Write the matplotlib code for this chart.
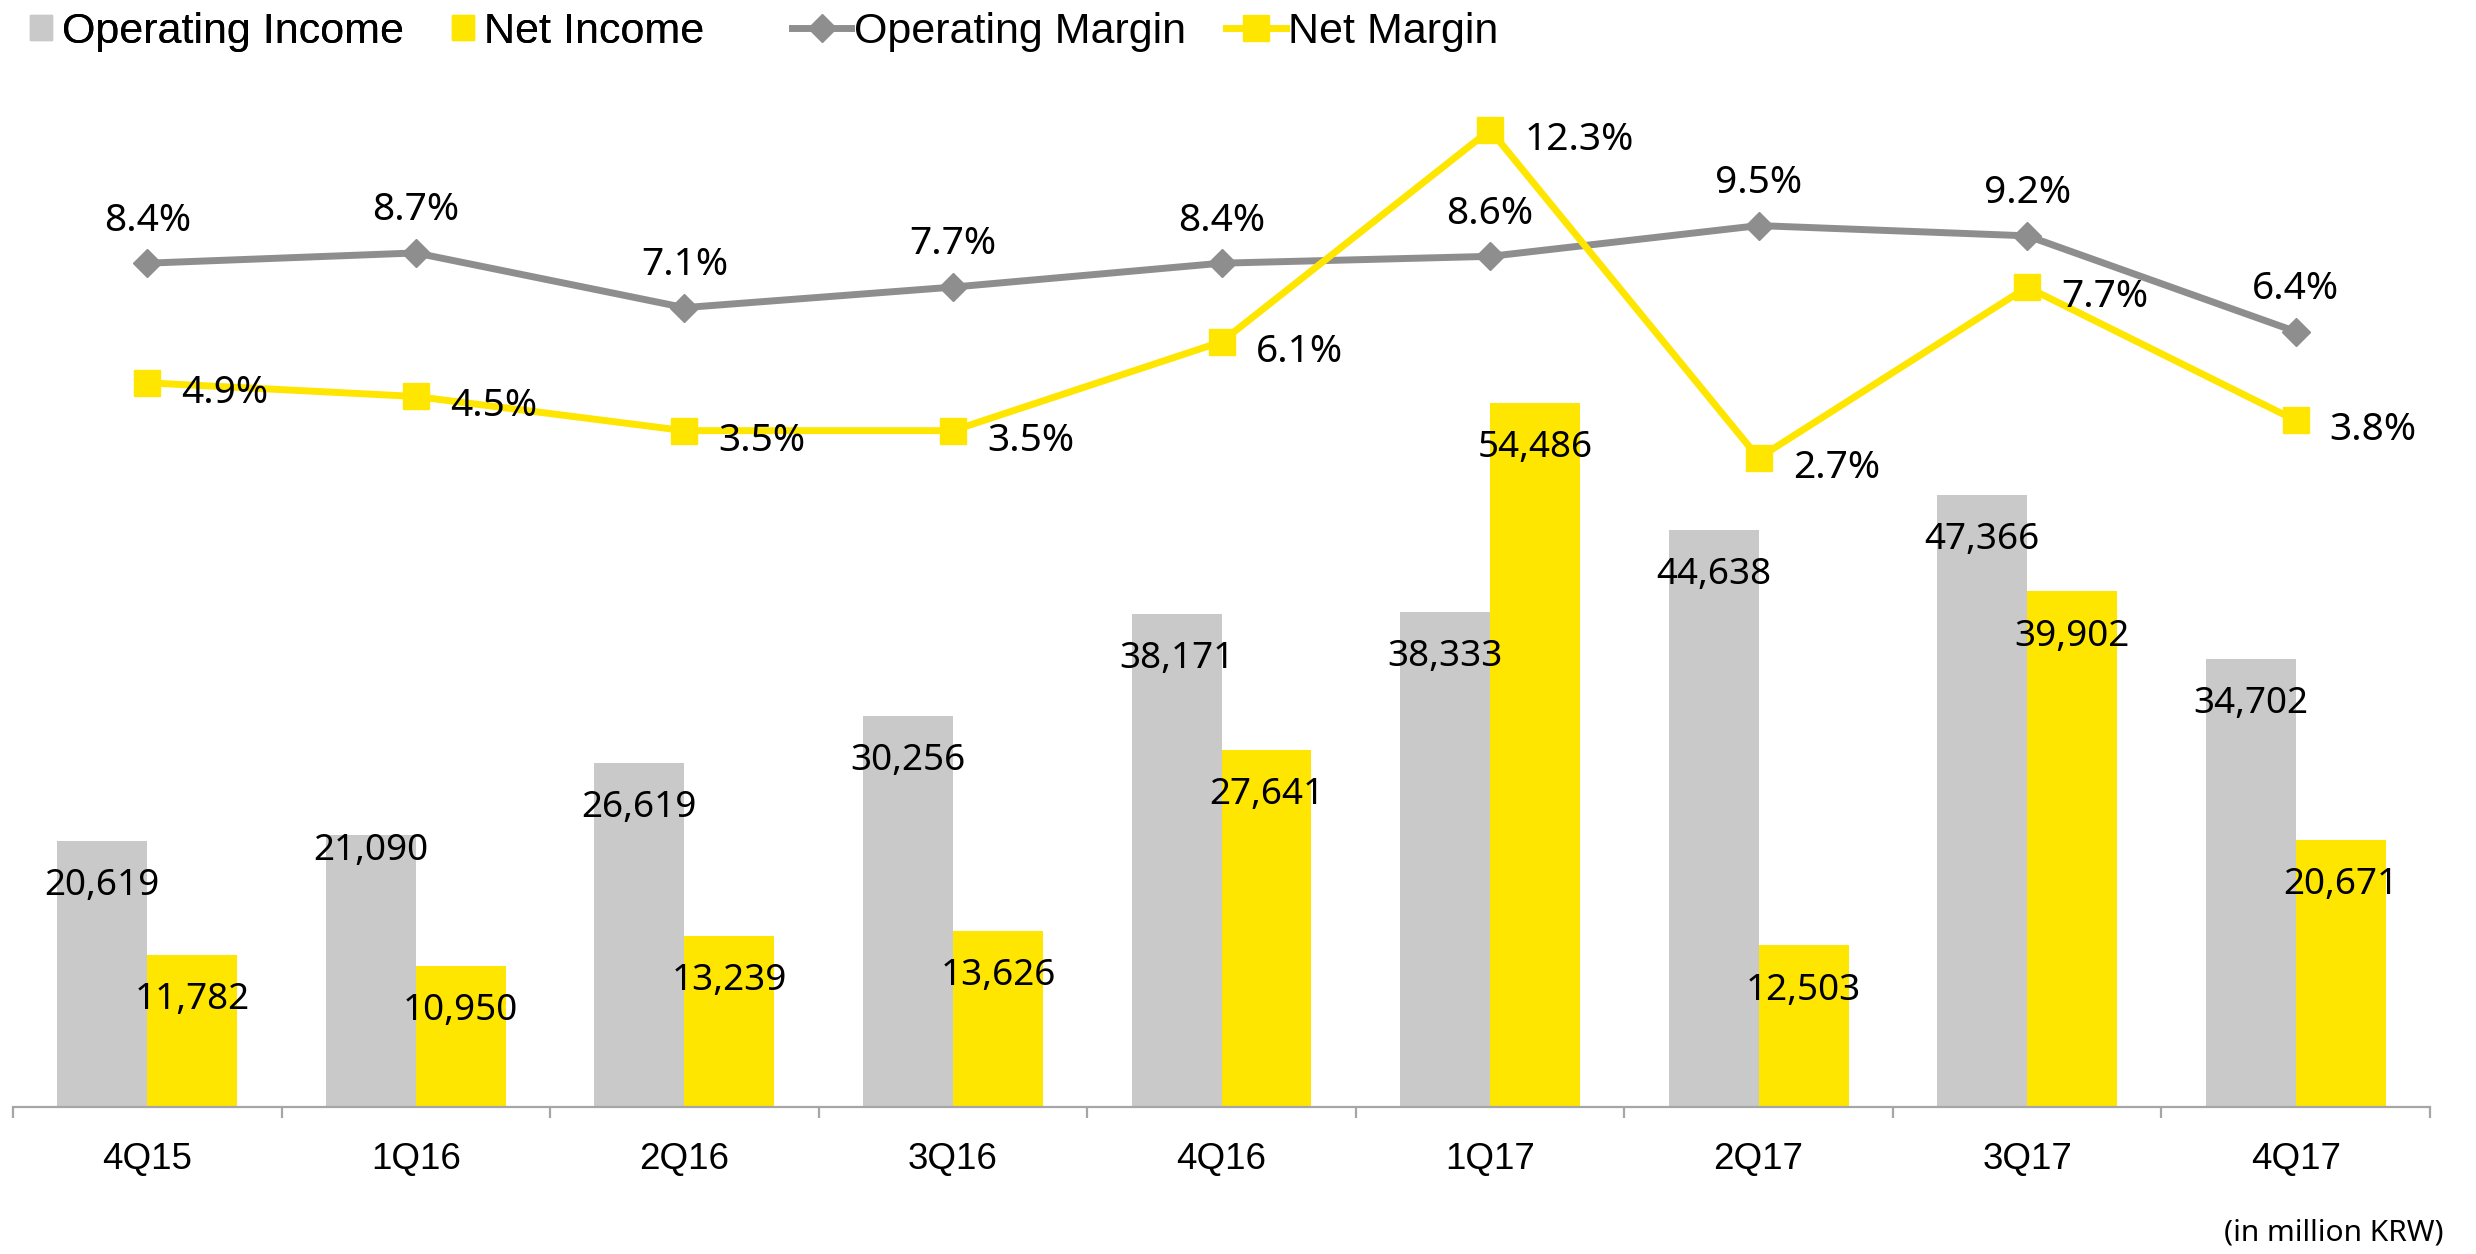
import numpy as np
import matplotlib
matplotlib.use("Agg")
import matplotlib.pyplot as plt
from matplotlib.lines import Line2D
from matplotlib.patches import Patch

# ---------------- data ----------------
quarters = ["4Q15", "1Q16", "2Q16", "3Q16", "4Q16", "1Q17", "2Q17", "3Q17", "4Q17"]
operating_income = [20619, 21090, 26619, 30256, 38171, 38333, 44638, 47366, 34702]
net_income = [11782, 10950, 13239, 13626, 27641, 54486, 12503, 39902, 20671]
operating_margin = [8.4, 8.7, 7.1, 7.7, 8.4, 8.6, 9.5, 9.2, 6.4]
net_margin = [4.9, 4.5, 3.5, 3.5, 6.1, 12.3, 2.7, 7.7, 3.8]
unit_note = "(in million KRW)"

# ---------------- style ----------------
GRAY_BAR = "#C9C9C9"
YELLOW = "#FFE600"
GRAY_LINE = "#8E8E8E"
AXIS_GRAY = "#A6A6A6"
LBL_FONT = ["Noto Sans", "DejaVu Sans"]
TXT_FONT = ["Liberation Sans", "DejaVu Sans"]

W, H = 2476, 1254
fig = plt.figure(figsize=(W / 100, H / 100), dpi=100)
left, right = 13 / W, 2430 / W
bottom, top = (H - 1107) / H, (H - 80) / H
ax = fig.add_axes([left, bottom, right - left, top - bottom])
ax2 = ax.twinx()

x = np.arange(len(quarters))
bw = 0.335
ax.bar(x - bw / 2, operating_income, width=bw, color=GRAY_BAR, zorder=2)
ax.bar(x + bw / 2, net_income, width=bw, color=YELLOW, zorder=2)
ax.set_xlim(-0.5, len(quarters) - 0.5)
ax.set_ylim(0, 79489)

ax2.plot(x, operating_margin, color=GRAY_LINE, lw=5, marker="D", ms=14,
         mec=GRAY_LINE, mfc=GRAY_LINE, zorder=3)
ax2.plot(x, net_margin, color=YELLOW, lw=5, marker="s", ms=18.5,
         mec=YELLOW, mfc=YELLOW, zorder=3)
ax2.set_ylim(-16.29, 13.76)

# axes styling
for s in ["top", "left", "right"]:
    ax.spines[s].set_visible(False)
    ax2.spines[s].set_visible(False)
ax2.spines["bottom"].set_visible(False)
ax.spines["bottom"].set_color(AXIS_GRAY)
ax.spines["bottom"].set_linewidth(1.6)
ax.set_yticks([])
ax2.set_yticks([])
ax.set_xticks(np.arange(-0.5, len(quarters)), labels=[""] * (len(quarters) + 1))
ax.tick_params(axis="x", which="major", length=8, width=1.6, color=AXIS_GRAY)
ax.set_xticks(x, labels=quarters, minor=True)
ax.tick_params(axis="x", which="minor", length=0, pad=25)
for t in ax.get_xticklabels(minor=True):
    t.set_fontfamily(TXT_FONT)
    t.set_fontsize(26.5)

# bar value labels (offsets in points below bar top, to baseline)
gray_off = [39, 18, 39, 39, 39, 39, 39, 39, 39]
for i, v in enumerate(operating_income):
    ax2.annotate(f"{v:,}", xy=(x[i] - bw / 2, v), xycoords=ax.transData,
                 xytext=(0, -gray_off[i]), textcoords="offset points",
                 ha="center", va="baseline", fontsize=26.5, family=LBL_FONT, zorder=5)
for i, v in enumerate(net_income):
    ax2.annotate(f"{v:,}", xy=(x[i] + bw / 2, v), xycoords=ax.transData,
                 xytext=(0, -39), textcoords="offset points",
                 ha="center", va="baseline", fontsize=26.5, family=LBL_FONT, zorder=5)

# margin labels
for i, v in enumerate(operating_margin):
    ax2.annotate(f"{v:.1f}%", xy=(x[i], v), xytext=(0, 23.5), textcoords="offset points",
                 ha="center", va="baseline", fontsize=28, family=LBL_FONT, zorder=5)
for i, v in enumerate(net_margin):
    ax2.annotate(f"{v:.1f}%", xy=(x[i], v), xytext=(24.5, -14.4), textcoords="offset points",
                 ha="left", va="baseline", fontsize=28, family=LBL_FONT, zorder=5)

# legends
leg_y = 1 - 32 / H
leg1 = fig.legend(handles=[Patch(color=GRAY_BAR, label="Operating Income"),
                           Patch(color=YELLOW, label="Net Income")],
                  loc="center left", bbox_to_anchor=(30 / W, leg_y), ncol=2,
                  frameon=False, borderpad=0, borderaxespad=0,
                  handlelength=0.52, handleheight=0.5, handletextpad=0.22,
                  columnspacing=1.12, prop={"family": TXT_FONT, "size": 31})
leg2 = fig.legend(handles=[Line2D([], [], color=GRAY_LINE, lw=5, marker="D", ms=14,
                                  label="Operating Margin"),
                           Line2D([], [], color=YELLOW, lw=5, marker="s", ms=18.5,
                                  label="Net Margin")],
                  loc="center left", bbox_to_anchor=(792 / W, leg_y), ncol=2,
                  frameon=False, borderpad=0, borderaxespad=0, numpoints=1,
                  handlelength=1.38, handletextpad=0.05,
                  columnspacing=0.95, prop={"family": TXT_FONT, "size": 31})
fig.add_artist(leg1)

fig.text(2444 / W, 1 - 1233 / H, unit_note, ha="right", va="center",
         fontsize=21.5, family=LBL_FONT)

fig.savefig("out.png", dpi=100)
